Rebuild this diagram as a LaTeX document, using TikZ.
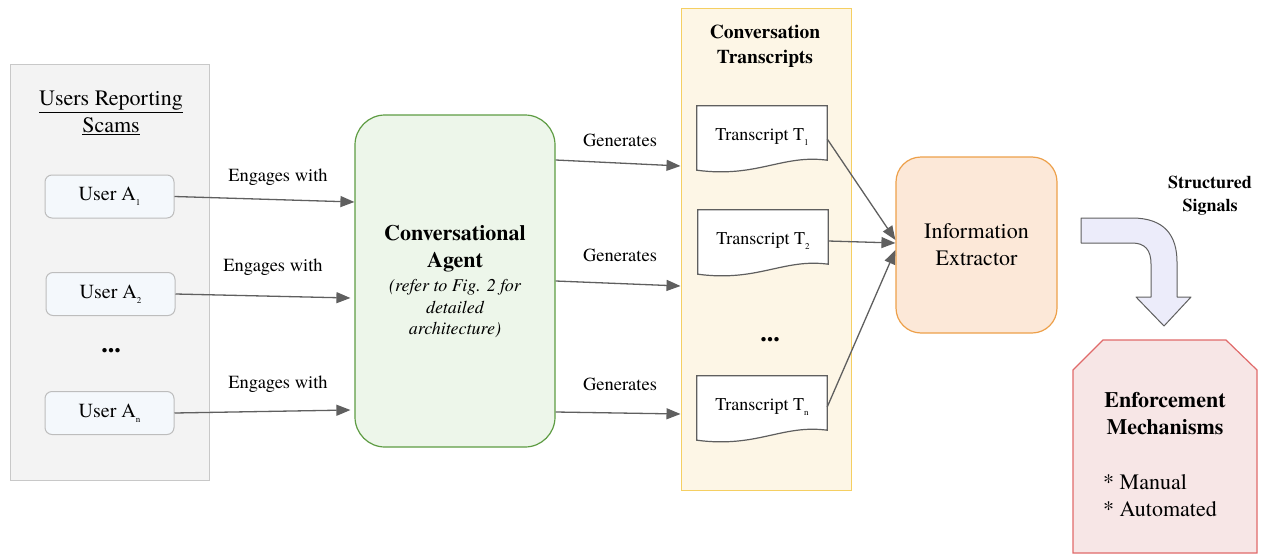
\documentclass[tikz,border=0pt]{standalone}
\usepackage{fontspec}
\setmainfont{texgyretermes}[Extension=.otf, UprightFont=*-regular, BoldFont=*-bold, ItalicFont=*-italic, BoldItalicFont=*-bolditalic]
\usetikzlibrary{arrows.meta,calc}
\definecolor{panelgray}{HTML}{F3F3F3}
\definecolor{panelborder}{HTML}{C8C8C8}
\definecolor{userfill}{HTML}{F4F8FC}
\definecolor{userborder}{HTML}{BDBDBD}
\definecolor{agentfill}{HTML}{EDF6EA}
\definecolor{agentborder}{HTML}{5E9C43}
\definecolor{yelfill}{HTML}{FDF6E6}
\definecolor{yelborder}{HTML}{F5CF62}
\definecolor{extfill}{HTML}{FCE8D8}
\definecolor{extborder}{HTML}{EDA04A}
\definecolor{arrfill}{HTML}{ECECFA}
\definecolor{enffill}{HTML}{F7E6E6}
\definecolor{enfborder}{HTML}{E06A6A}
\definecolor{linegray}{HTML}{5F5F5F}
\newcommand\lowsub[1]{\raisebox{-0.55ex}{\fontsize{9}{9}\selectfont #1}}
\tikzset{
  conn/.style={draw=linegray, line width=1.3pt, -{Triangle[length=14pt,width=11pt]}},
  lbl/.style={font=\fontsize{18.5}{22}\selectfont, inner sep=0pt},
  userbox/.style={draw=userborder, fill=userfill, rounded corners=7pt, line width=1pt,
    minimum width=129pt, minimum height=43pt, inner sep=0pt, font=\fontsize{20}{24}\selectfont},
  docnode/.style={minimum width=130pt, minimum height=62pt, inner sep=0pt, font=\fontsize{18}{22}\selectfont},
  docline/.style={draw=linegray, line width=1.2pt, fill=white},
  dots/.style={font=\fontsize{26}{26}\selectfont\bfseries, inner sep=0pt},
}
\newcommand\docshape[1]{%
  \draw[docline] (#1.north west) -- (#1.north east) -- ($(#1.south east)+(0,-8)$)
    .. controls ($(#1.south east)+(-45,-14)$) and ($(#1.south west)+(60,10)$) .. ($(#1.south west)+(0,2)$) -- cycle;}
\begin{document}
\begin{tikzpicture}[x=1pt,y=-1pt]
\useasboundingbox (0,0) rectangle (1263,554);

% users panel
\node[draw=panelborder, fill=panelgray, line width=1pt, minimum width=199pt, minimum height=416pt, inner sep=0pt] (usersPanel) at (109.5,272) {};
\node[font=\fontsize{22}{27}\selectfont, align=center] (usersTitle) at (111,113) {\underline{Users Reporting}\\\underline{Scams}};
\node[userbox] (u1) at (109.5,196.5) {User A\lowsub{1}};
\node[userbox] (u2) at (110.5,294) {User A\lowsub{2}};
\node[userbox] (un) at (109.5,413) {User A\lowsub{n}};
\node[dots] (udots) at (111,351) {...};

% agent
\node[draw=agentborder, fill=agentfill, line width=1.2pt, rounded corners=30pt, minimum width=200pt, minimum height=332pt, inner sep=0pt] (agent) at (455,281) {};
\node[font=\fontsize{22}{27}\selectfont\bfseries, align=center] (agentTitle) at (455,249) {Conversational\\Agent};
\node[font=\fontsize{18}{21.5}\selectfont\itshape, align=center] (agentNote) at (455,309) {(refer to Fig. 2 for\\detailed\\architecture)};

\draw[conn] (u1.east) -- ($(agent.west)+(0,-79)$);
\draw[conn] (u2.east) -- ($(agent.west)+(-4,17)$);
\draw[conn] (un.east) -- ($(agent.west)+(-4,129)$);
\node[lbl] (e1) at (278,177) {Engages with};
\node[lbl] (e2) at (273,267) {Engages with};
\node[lbl] (e3) at (278,384) {Engages with};

% transcripts panel
\node[draw=yelborder, fill=yelfill, line width=1pt, minimum width=170pt, minimum height=482pt, inner sep=0pt] (transPanel) at (766,249) {};
\node[font=\fontsize{19.5}{25}\selectfont\bfseries, align=center] (transTitle) at (765,46) {Conversation\\Transcripts};

\node[docnode] (t1) at (762,137) {};
\docshape{t1}
\node[docnode] at (t1) (t1text) {Transcript T\lowsub{1}};
\node[docnode] (t2) at (763,241) {};
\docshape{t2}
\node[docnode] at (t2) (t2text) {Transcript T\lowsub{2}};
\node[docnode] (tn) at (762,407) {};
\docshape{tn}
\node[docnode] at (tn) (tntext) {Transcript T\lowsub{n}};
\node[dots] (tdots) at (770,340) {...};

\draw[conn] ($(agent.east)+(0,-121)$) -- ($(transPanel.west)+(0,-83)$);
\draw[conn] (agent.east) -- ($(transPanel.west)+(0,37)$);
\draw[conn] ($(agent.east)+(0,131)$) -- ($(transPanel.west)+(0,165)$);
\node[lbl] (g1) at (620,140) {Generates};
\node[lbl] (g2) at (620,255) {Generates};
\node[lbl] (g3) at (620,384) {Generates};

% extractor
\node[draw=extborder, fill=extfill, line width=1.2pt, rounded corners=25pt, minimum width=161pt, minimum height=176pt, inner sep=0pt, align=center, font=\fontsize{22}{27}\selectfont] (ext) at (976.5,245) {Information\\Extractor};

\draw[conn] ($(t1.east)+(0,2)$) -- ($(ext.west)+(0,-5)$);
\draw[conn] (t2.east) -- ($(ext.west)+(0,-2)$);
\draw[conn] (tn.east) -- ($(ext.west)+(0,5)$);

% curved block arrow
\draw[draw=linegray, fill=arrfill, line width=1pt, line join=round]
  (1081,218) -- (1132,218) .. controls (1165,218) and (1177,236) .. (1177,262)
  -- (1177,297) -- (1191,297) -- (1164,326) -- (1136,297) -- (1151,297) -- (1151,264)
  .. controls (1151,250) and (1145,243) .. (1132,243) -- (1081,243) -- cycle;
\node[font=\fontsize{18}{23}\selectfont\bfseries, align=center] (signals) at (1210,196) {Structured\\Signals};

% enforcement
\draw[draw=enfborder, fill=enffill, line width=1.2pt]
  (1103,340) -- (1226,340) -- (1257,370) -- (1257,553) -- (1073,553) -- (1073,370) -- cycle;
\node[font=\fontsize{22}{27}\selectfont\bfseries, align=center] (enfTitle) at (1165,414) {Enforcement\\Mechanisms};
\node[font=\fontsize{22}{27}\selectfont, align=left, anchor=west, inner sep=0pt] (enfList) at (1103,496) {* Manual\\* Automated};
\end{tikzpicture}
\end{document}
